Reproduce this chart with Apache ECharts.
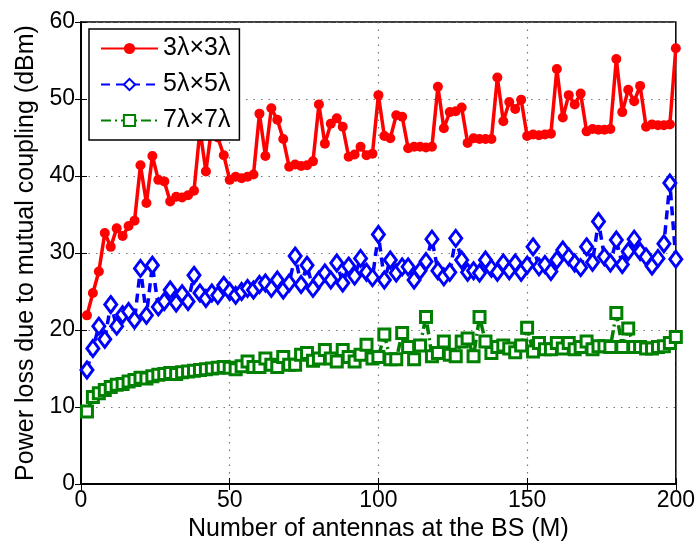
<!DOCTYPE html>
<html>
<head>
<meta charset="utf-8">
<script src="https://cdn.jsdelivr.net/npm/echarts@6/dist/echarts.min.js"></script>
<style>html,body{margin:0;padding:0;background:#fff}#c{width:698px;height:554px}</style>
</head>
<body>
<div id="c"></div>
<script>
// Number of antennas M (x values)
const antennas = [];
for (let m = 2; m <= 200; m += 2) antennas.push(m);

const seriesNames = ['3λ×3λ', '5λ×5λ', '7λ×7λ'];

const loss3 = [
  21.9, 24.8, 27.6, 32.6, 30.8, 33.2, 32.2, 33.5, 34.2, 41.4,
  36.5, 42.6, 39.5, 39.3, 36.7, 37.3, 37.2, 37.5, 38.1, 46.0,
  40.6, 46.5, 45.0, 42.7, 39.5, 39.9, 39.7, 39.9, 40.2, 48.1,
  42.6, 48.8, 47.3, 44.8, 41.2, 41.5, 41.3, 41.4, 41.9, 49.3,
  44.2, 46.8, 47.5, 46.4, 42.5, 42.8, 43.8, 42.7, 42.9, 50.5,
  45.2, 44.9, 47.9, 47.7, 43.6, 43.8, 43.8, 43.7, 43.8, 51.6,
  46.2, 48.3, 48.4, 48.9, 44.3, 44.9, 44.8, 44.8, 44.8, 52.8,
  47.1, 49.6, 48.7, 49.9, 45.2, 45.4, 45.3, 45.4, 45.5, 53.9,
  47.6, 50.5, 49.3, 50.7, 45.8, 46.1, 46.0, 46.0, 46.1, 55.2,
  48.3, 51.2, 49.7, 51.7, 46.4, 46.7, 46.6, 46.6, 46.7, 56.6
];

const loss5 = [
  14.8, 17.6, 20.5, 18.8, 23.3, 20.5, 22.0, 22.4, 21.3, 28.0,
  21.9, 28.4, 23.0, 23.7, 25.2, 23.5, 24.7, 23.7, 27.1, 24.8,
  24.1, 24.8, 24.5, 25.8, 25.0, 24.5, 25.0, 25.4, 25.2, 25.9,
  26.1, 25.4, 26.5, 25.2, 26.1, 29.6, 25.9, 28.4, 25.4, 26.5,
  27.4, 26.5, 28.7, 26.1, 28.3, 27.0, 29.3, 27.5, 26.8, 32.4,
  26.5, 29.1, 27.4, 28.2, 28.2, 26.5, 27.7, 28.9, 31.8, 27.7,
  26.9, 27.5, 31.9, 29.1, 27.5, 27.7, 27.4, 29.1, 28.0, 27.5,
  28.7, 27.7, 28.7, 27.5, 28.4, 30.8, 28.2, 28.5, 27.6, 29.1,
  30.4, 29.5, 28.7, 28.1, 30.8, 28.8, 34.1, 29.5, 28.7, 31.7,
  28.5, 30.2, 31.8, 30.2, 29.5, 28.3, 29.3, 31.2, 39.1, 29.2
];

const loss7 = [
   9.4, 11.3, 11.8, 12.2, 12.6, 12.9, 13.0, 13.3, 13.5, 13.8,
  13.7, 14.0, 14.2, 14.3, 14.4, 14.3, 14.5, 14.6, 14.7, 14.8,
  14.9, 15.0, 15.1, 15.2, 15.1, 14.9, 15.3, 15.9, 15.2, 15.2,
  16.3, 15.5, 15.2, 16.5, 15.5, 15.5, 16.8, 17.0, 16.0, 16.3,
  17.4, 16.3, 15.9, 17.4, 16.5, 15.9, 16.8, 18.1, 16.3, 16.5,
  19.4, 16.2, 16.2, 19.6, 17.8, 16.2, 18.0, 21.7, 16.6, 17.0,
  18.5, 16.8, 16.6, 18.5, 18.9, 16.6, 21.7, 18.5, 17.0, 17.8,
  18.0, 17.6, 17.1, 18.0, 20.3, 17.2, 18.3, 17.5, 17.5, 18.3,
  17.6, 18.3, 17.5, 17.8, 18.5, 17.5, 17.9, 17.9, 17.8, 22.2,
  17.8, 20.2, 17.8, 17.8, 17.6, 17.6, 17.8, 17.9, 18.3, 19.1
];

const xTicks = [0, 50, 100, 150, 200];
const yTicks = [0, 10, 20, 30, 40, 50, 60];

const pair = ys => antennas.map((m, i) => [m, ys[i]]);
const FONT = 'Liberation Sans, Arial, Helvetica, sans-serif';

const chart = echarts.init(document.getElementById('c'), null, {renderer: 'canvas'});
const gridLine = {show: true, lineStyle: {color: '#777', type: [1.5, 6], width: 1.2}};
chart.setOption({
  animation: false,
  backgroundColor: '#fff',
  grid: {left: 81, right: 21, top: 22, bottom: 70, show: true, borderColor: '#000', borderWidth: 1.5, backgroundColor: 'transparent'},
  legend: {
    show: true, orient: 'vertical', left: 89, top: 29, z: 10,
    backgroundColor: '#fff', borderColor: '#000', borderWidth: 1.5,
    padding: [7, 9, 7, 11], itemGap: 11, itemWidth: 57, itemHeight: 14,
    textStyle: {fontFamily: FONT, fontSize: 25, color: '#000', lineHeight: 25},
    data: seriesNames
  },
  xAxis: [{
    type: 'value', min: xTicks[0], max: xTicks[xTicks.length - 1], interval: 50,
    name: 'Number of antennas at the BS (M)', nameLocation: 'middle', nameGap: 28,
    nameTextStyle: {fontFamily: FONT, fontSize: 25, color: '#000'},
    axisLine: {show: true, lineStyle: {color: '#000', width: 1.5}},
    axisTick: {show: true, inside: true, length: 6, lineStyle: {color: '#000'}},
    axisLabel: {fontFamily: FONT, fontSize: 23, color: '#000', margin: 5},
    splitLine: gridLine
  }, {
    type: 'value', position: 'top', min: 0, max: 200, interval: 50,
    axisLine: {show: true, lineStyle: {color: '#000', width: 1.5}},
    axisTick: {show: true, inside: true, length: 6, lineStyle: {color: '#000'}},
    axisLabel: {show: false}, splitLine: {show: false}
  }],
  yAxis: [{
    type: 'value', min: yTicks[0], max: yTicks[yTicks.length - 1], interval: 10,
    name: 'Power loss due to mutual coupling (dBm)', nameLocation: 'middle', nameGap: 40,
    nameTextStyle: {fontFamily: FONT, fontSize: 25, color: '#000'},
    axisLine: {show: true, lineStyle: {color: '#000', width: 1.5}},
    axisTick: {show: true, inside: true, length: 6, lineStyle: {color: '#000'}},
    axisLabel: {fontFamily: FONT, fontSize: 23, color: '#000', margin: 6},
    splitLine: gridLine
  }, {
    type: 'value', position: 'right', min: 0, max: 60, interval: 10,
    axisLine: {show: true, lineStyle: {color: '#000', width: 1.5}},
    axisTick: {show: true, inside: true, length: 6, lineStyle: {color: '#000'}},
    axisLabel: {show: false}, splitLine: {show: false}
  }],
  series: [{
    name: seriesNames[0], type: 'line', data: pair(loss3),
    symbol: 'circle', symbolSize: 10,
    lineStyle: {color: '#ff0000', width: 3.5},
    itemStyle: {color: '#ff0000'}, z: 3
  }, {
    name: seriesNames[1], type: 'line', data: pair(loss5),
    symbol: 'diamond', symbolSize: [12, 16],
    lineStyle: {color: '#0000ff', width: 3.5, type: [9, 6]},
    itemStyle: {color: '#ffffff', borderColor: '#0000ff', borderWidth: 3}, z: 2
  }, {
    name: seriesNames[2], type: 'line', data: pair(loss7),
    symbol: 'rect', symbolSize: 11,
    lineStyle: {color: '#008000', width: 3.5, type: [10, 4, 2, 4]},
    itemStyle: {color: '#ffffff', borderColor: '#008000', borderWidth: 3}, z: 1
  }]
});
</script>
</body>
</html>
